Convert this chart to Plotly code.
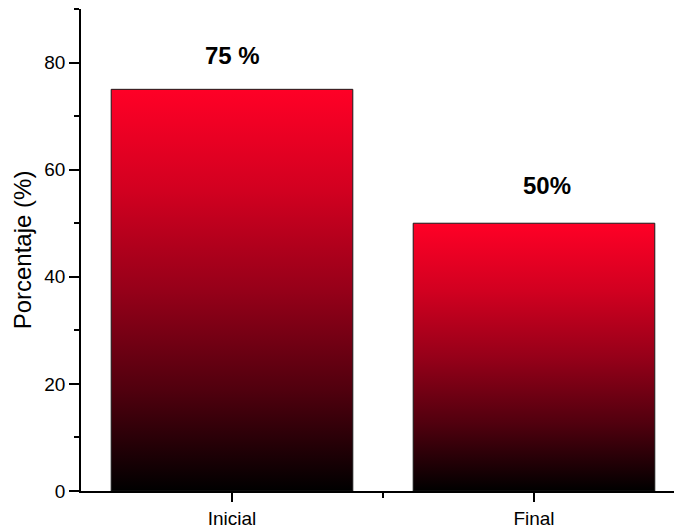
import plotly.graph_objects as go

categories = ["Inicial", "Final"]
values = [75, 50]
value_labels = ["75 %", "50%"]
y_ticks = [0, 20, 40, 60, 80]

BAR_WIDTH = 0.8
FONT = "Liberation Sans, Arial, sans-serif"
GRADIENT = [
    [0.0, "rgb(0,0,0)"],
    [0.25, "rgb(80,0,14)"],
    [0.5, "rgb(150,0,25)"],
    [0.75, "rgb(210,0,32)"],
    [1.0, "rgb(255,0,38)"],
]

fig = go.Figure()

for i, (cat, v) in enumerate(zip(categories, values)):
    x0, x1 = i - BAR_WIDTH / 2, i + BAR_WIDTH / 2
    fig.add_trace(go.Scatter(
        x=[x0, x0, x1, x1, x0],
        y=[0, v, v, 0, 0],
        mode="lines",
        fill="toself",
        fillgradient=dict(type="vertical", colorscale=GRADIENT),
        line=dict(color="#1a1a1a", width=1),
        name=cat,
        hoverinfo="text",
        text=f"{cat}: {v}%",
        showlegend=False,
    ))

shifts = [(0, 34), (13, 38)]
for i, (lab, v) in enumerate(zip(value_labels, values)):
    fig.add_annotation(
        x=i, y=v, text=f"<b>{lab}</b>", showarrow=False,
        xshift=shifts[i][0], yshift=shifts[i][1],
        font=dict(family=FONT, size=24, color="black"),
    )

fig.update_layout(
    width=674, height=529,
    margin=dict(l=81, r=0, t=9, b=38),
    plot_bgcolor="white", paper_bgcolor="white",
    font=dict(family=FONT, size=19, color="black"),
    showlegend=False,
)

fig.update_xaxes(
    range=[-0.5, 1.4636],
    tickmode="array", tickvals=list(range(len(categories))), ticktext=categories,
    ticks="outside", ticklen=9, tickwidth=1.5, tickcolor="black",
    minor=dict(tickmode="array", tickvals=[0.5], ticks="outside", ticklen=5, tickwidth=1.5, tickcolor="black"),
    showline=True, linecolor="black", linewidth=1.5,
    showgrid=False, zeroline=False,
    tickfont=dict(size=19),
)
fig.update_yaxes(
    range=[0, 90],
    tickmode="array", tickvals=y_ticks,
    ticks="outside", ticklen=10, tickwidth=1.5, tickcolor="black",
    minor=dict(dtick=10, ticks="outside", ticklen=5, tickwidth=1.5, tickcolor="black"),
    showline=True, linecolor="black", linewidth=1.5,
    showgrid=False, zeroline=False,
    title=dict(text="Porcentaje (%)", font=dict(size=24), standoff=6),
    tickfont=dict(size=19),
)

fig.write_html(
    "out.html",
    config={"displayModeBar": False},
    post_script="document.body.style.margin='0';document.body.style.padding='0';",
)
